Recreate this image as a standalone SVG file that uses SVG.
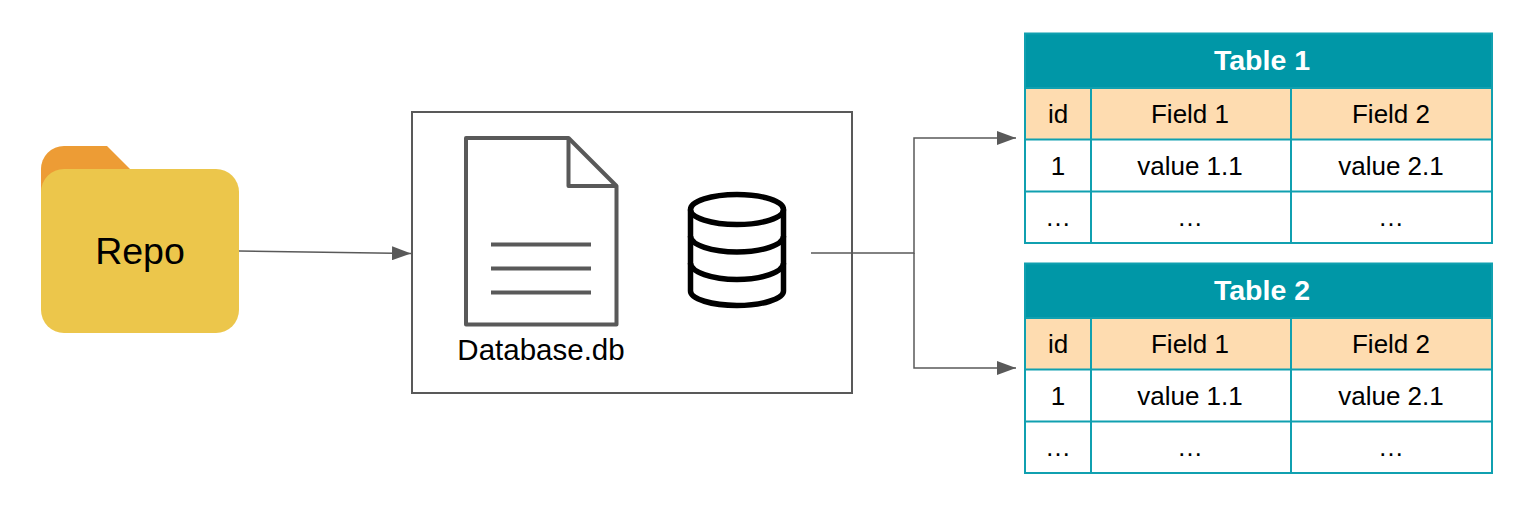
<svg xmlns="http://www.w3.org/2000/svg" width="1525" height="512" viewBox="0 0 1525 512">
<style>
text{font-family:"Liberation Sans",Arial,sans-serif;fill:#000;text-anchor:middle}
.c{font-size:26px}
.t{font-size:28.5px;font-weight:bold;fill:#fff}
.hd{fill:#fedcb0}
.cell{fill:#fff}
.grid{fill:none;stroke:#10a0b0;stroke-width:2}
.ttl{fill:#0097a7}
.conn{fill:none;stroke:#595959;stroke-width:1.5}
.ic{fill:none;stroke:#595959;stroke-width:4;stroke-linejoin:round}
.ln{fill:none;stroke:#595959;stroke-width:4}
.db{fill:none;stroke:#000;stroke-width:5.500;stroke-linejoin:round}
</style>
<defs>
<marker id="arr" markerUnits="userSpaceOnUse" markerWidth="20" markerHeight="14" refX="19" refY="7" orient="auto">
<path d="M0 0L19 7L0 14Z" fill="#595959"/>
</marker>
<g id="table">
<rect class="cell" x="1025" y="33.500" width="467" height="209.500"/>
<rect class="hd" x="1025" y="88" width="467" height="51"/>
<rect class="ttl" x="1025" y="33.500" width="467" height="55"/>
<path class="grid" d="M1025 33.500H1492V243H1025ZM1025 88H1492M1025 139.500H1492M1025 191.500H1492M1091 88V243M1291 88V243"/>
</g>
</defs>
<g id="connectors">
<path class="conn" d="M239 251L411 253.500" marker-end="url(#arr)"/>
<path class="conn" d="M811 253H914V138H1016" marker-end="url(#arr)"/>
<path class="conn" d="M914 253V368H1016" marker-end="url(#arr)"/>
</g>
<g id="repo">
<path fill="#ed9c35" d="M41 200V169A23 23 0 0 1 64 146H107L130 169V200Z"/>
<rect fill="#ecc64b" x="41" y="169" width="198" height="164" rx="23"/>
<text x="140" y="264" style="font-size:37.500px">Repo</text>
</g>
<g id="database-box">
<rect x="412" y="112" width="440" height="281" fill="none" stroke="#595959" stroke-width="2"/>
</g>
<g id="database-file">
<path class="ic" d="M466 138H568.500L616.500 186V324.500H466Z"/>
<path class="ic" d="M568.500 138V186H616.500"/>
<path class="ln" d="M491 244.500H591M491 268.500H591M491 292.500H591"/>
<text x="541" y="360" style="font-size:29.500px">Database.db</text>
</g>
<g id="database-icon">
<ellipse class="db" cx="737" cy="209.500" rx="46.500" ry="15"/>
<path class="db" d="M690.500 209.500V291C690.500 299 712 305.500 737 305.500S783.500 299 783.500 291V209.500"/>
<path class="db" d="M690.500 236C690.500 245 712 252 737 252S783.500 245 783.500 236"/>
<path class="db" d="M690.500 263C690.500 272 712 279.500 737 279.500S783.500 272 783.500 263"/>
</g>
<g id="table-1">
<use href="#table"/>
<text class="t" x="1262" y="70">Table 1</text>
<text class="c" x="1058" y="123">id</text><text class="c" x="1190" y="123">Field 1</text><text class="c" x="1391" y="123">Field 2</text>
<text class="c" x="1058" y="175">1</text><text class="c" x="1190" y="175">value 1.1</text><text class="c" x="1391" y="175">value 2.1</text>
<text class="c" x="1058" y="226">…</text><text class="c" x="1190" y="226">…</text><text class="c" x="1391" y="226">…</text>
</g>
<g id="table-2">
<use href="#table" y="230"/>
<text class="t" x="1262" y="300">Table 2</text>
<text class="c" x="1058" y="353">id</text><text class="c" x="1190" y="353">Field 1</text><text class="c" x="1391" y="353">Field 2</text>
<text class="c" x="1058" y="405">1</text><text class="c" x="1190" y="405">value 1.1</text><text class="c" x="1391" y="405">value 2.1</text>
<text class="c" x="1058" y="456">…</text><text class="c" x="1190" y="456">…</text><text class="c" x="1391" y="456">…</text>
</g>
</svg>
